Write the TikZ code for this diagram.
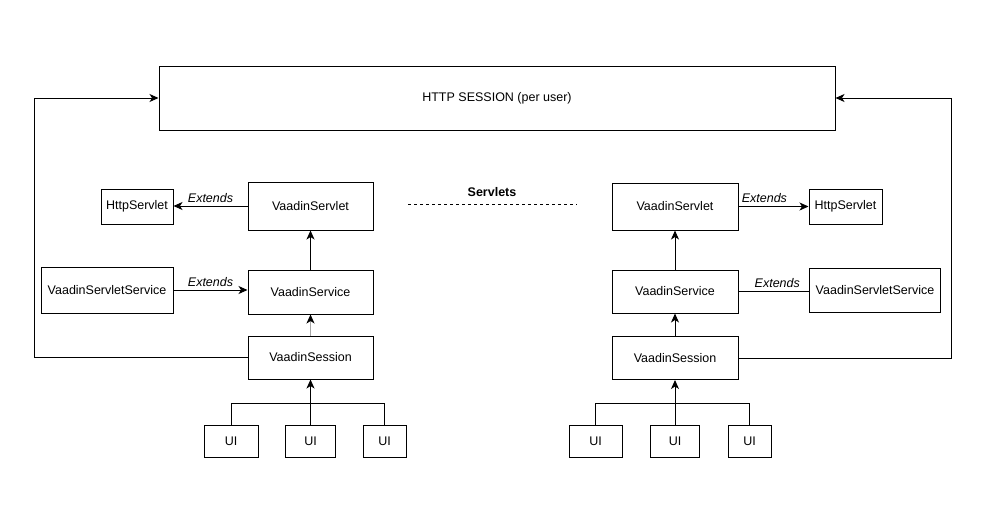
\documentclass[tikz,border=0pt]{standalone}
\usepackage{fontspec}
\setmainfont{Liberation Sans}
\usepackage{tikz}
\usetikzlibrary{arrows.meta}
\tikzstyle{classe} = [rectangle, draw=black, line width=1pt, inner sep=0pt, text centered]
\tikzstyle{lien} = [line width=1pt]
\tikzstyle{fleche} = [line width=1pt, -{Stealth[length=9pt, width=8pt, inset=2.5pt]}]
\tikzstyle{etiquette} = [font=\fontsize{12.5}{15}\selectfont\itshape]

\begin{document}
\begin{tikzpicture}[x=1pt, y=-1pt, font=\fontsize{12.5}{15}\selectfont]
    \useasboundingbox (0,0) rectangle (994,520);

    \node [classe, minimum width=676pt, minimum height=64pt] (http) at (497,98) {HTTP SESSION (per user)};

    % cote gauche
    \node [classe, minimum width=125pt, minimum height=48pt] (lservlet) at (310.5,206) {VaadinServlet};
    \node [classe, minimum width=72pt, minimum height=35pt] (lhttp) at (137,206.5) {HttpServlet};
    \node [classe, minimum width=125pt, minimum height=44pt] (lservice) at (310.5,292) {VaadinService};
    \node [classe, minimum width=132pt, minimum height=46pt] (lsvc) at (107,290) {VaadinServletService};
    \node [classe, minimum width=125pt, minimum height=43pt] (lsession) at (310.5,357.5) {VaadinSession};

    % cote droit
    \node [classe, minimum width=126pt, minimum height=47pt] (rservlet) at (675,206.5) {VaadinServlet};
    \node [classe, minimum width=73pt, minimum height=35pt] (rhttp) at (845.5,206.5) {HttpServlet};
    \node [classe, minimum width=126pt, minimum height=43pt] (rservice) at (675,291.5) {VaadinService};
    \node [classe, minimum width=131pt, minimum height=44pt] (rsvc) at (875,290.5) {VaadinServletService};
    \node [classe, minimum width=126pt, minimum height=43pt] (rsession) at (675,358) {VaadinSession};

    \foreach \nom/\x/\larg in {lui1/231/54, lui2/310.5/50, lui3/384.5/43, rui1/595.5/53, rui2/675/49, rui3/749.5/43}
    {
        \node [classe, minimum width=\larg pt, minimum height=32pt] (\nom) at (\x,441) {UI};
    }

    % servlets
    \node [font=\fontsize{12.5}{15}\selectfont\bfseries] (servlets) at (492,192) {Servlets};
    \coordinate (sa) at (408,204);
    \coordinate (sb) at (577,204);
    \draw [line width=0.8pt, dash pattern=on 3pt off 3pt] (sa) -- (sb);

    % liens gauche
    \draw [fleche] (lservlet.west) -- node [etiquette, above] {Extends} (lservlet.west -| lhttp.east);
    \draw [fleche] (lsvc.east) -- node [etiquette, above] {Extends} (lsvc.east -| lservice.west);
    \draw [fleche] (lservice.north) -- (lservlet.south);
    \draw [line width=1pt, draw=gray!70, -{Stealth[length=9pt, width=8pt, inset=2.5pt, color=black]}] (lsession.north) -- (lservice.south);
    \draw [fleche] (lui2.north) -- (lsession.south);
    \draw [lien] (lui1.north) -- ++(0,-21) -| (lui3.north);
    \coordinate (lcoin) at (34,98);
    \draw [fleche] (lsession.west) -| (lcoin) -- (http.west);

    % liens droit
    \draw [fleche] (rservlet.east) -- node [etiquette, above, pos=0.37] {Extends} (rservlet.east -| rhttp.west);
    \draw [lien] (rservice.east) -- node [etiquette, above, pos=0.55] {Extends} (rservice.east -| rsvc.west);
    \draw [fleche] (rservice.north) -- (rservlet.south);
    \draw [fleche] (rsession.north) -- (rservice.south);
    \draw [fleche] (rui2.north) -- (rsession.south);
    \draw [lien] (rui1.north) -- ++(0,-21) -| (rui3.north);
    \coordinate (rcoin) at (951,98);
    \draw [fleche] (rsession.east) -| (rcoin) -- (http.east);
\end{tikzpicture}
\end{document}
